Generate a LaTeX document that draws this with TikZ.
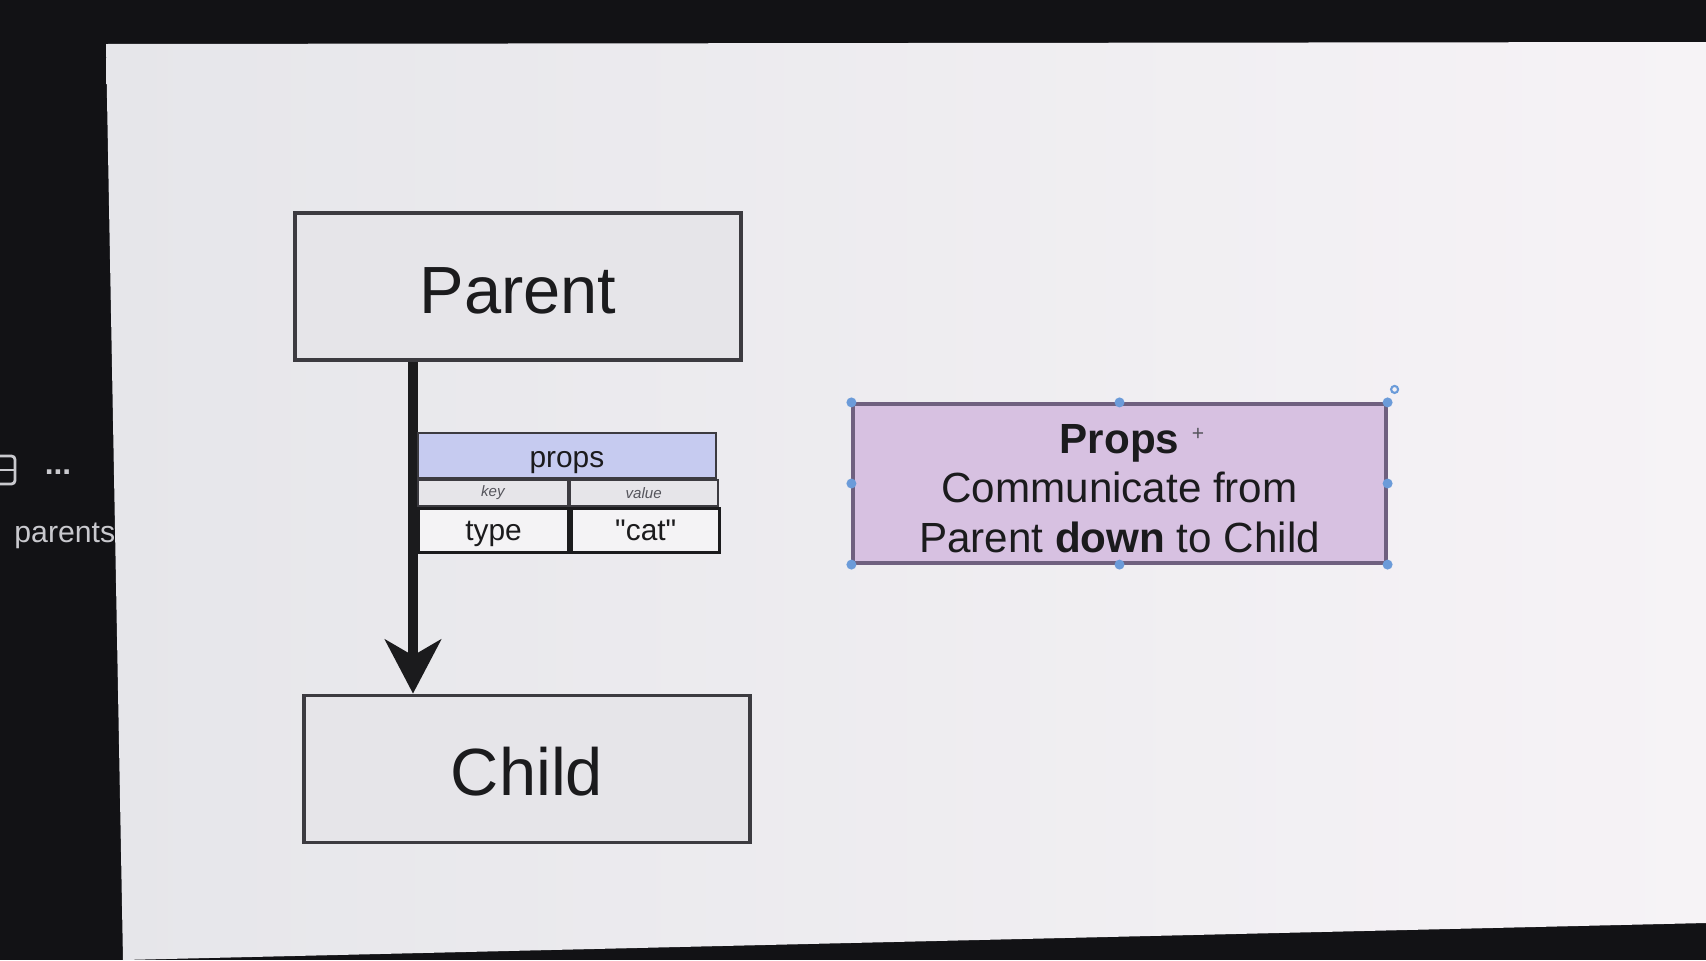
\documentclass[tikz,border=0pt]{standalone}
\usepackage{fontspec}
\setmainfont{Liberation Sans}[Ligatures=TeXOff]
\usepackage{xcolor}
\usepackage{tikz}
\usetikzlibrary{positioning,arrows.meta,calc}
\definecolor{PPdark}{HTML}{121215}
\definecolor{PPscreenL}{HTML}{E6E6EA}
\definecolor{PPscreenR}{HTML}{F6F3F6}
\definecolor{PPbox}{HTML}{E6E5E9}
\definecolor{PPline}{HTML}{3C3B40}
\definecolor{PPink}{HTML}{1B1B1D}
\definecolor{PPhead}{HTML}{C6CBF0}
\definecolor{PPpurple}{HTML}{D7C1E1}
\definecolor{PPpurpleLine}{HTML}{6F607F}
\definecolor{PPhandle}{HTML}{6B9BD9}
\definecolor{PPmuted}{HTML}{55555C}
\definecolor{PPpaneltext}{HTML}{C9C9CE}
\tikzset{
  compbox/.style={draw=PPline, line width=0.9pt, fill=PPbox, minimum width=4.46cm, minimum height=1.47cm, inner sep=0pt, text height=15.5pt, font=\fontsize{19}{22}\selectfont, text=PPink},
  flowarr/.style={-{Stealth[length=5.4mm, width=5.6mm, inset=1.6mm]}, line width=2.6pt, draw=PPink},
  headcell/.style={draw=PPline, line width=0.5pt, fill=PPhead, minimum width=2.98cm, minimum height=0.45cm, inner sep=0pt, text height=8.5pt, text depth=1.7pt, font=\fontsize{8.5}{10}\selectfont, text=PPink},
  keycell/.style={draw=PPline, line width=0.5pt, fill=PPbox, minimum height=0.26cm, inner sep=0pt, font=\fontsize{4.3}{5}\selectfont\itshape, text=PPmuted},
  valcell/.style={draw=PPink, line width=0.9pt, fill=white!55!PPbox, minimum height=0.44cm, inner sep=0pt, text height=7.8pt, text depth=1.7pt, font=\fontsize{8.5}{10}\selectfont, text=PPink},
  notebox/.style={draw=PPpurpleLine, line width=0.9pt, fill=PPpurple, minimum width=5.33cm, minimum height=1.59cm, inner sep=0pt, align=center, font=\fontsize{12}{14.2}\selectfont, text=PPink},
  handle/.style={circle, fill=PPhandle, inner sep=0pt, minimum size=0.1cm}
}

\begin{document}
\begin{tikzpicture}[node distance=0.18cm]
\useasboundingbox (0,0) rectangle (17.06,9.60);
\fill[PPdark] (0,0) rectangle (17.06,9.60);
\shade[left color=PPscreenL, right color=PPscreenR] (1.06,9.16) -- (17.06,9.18) -- (17.06,0.37) -- (1.23,0) -- cycle;
\draw[PPpaneltext, line width=0.8pt, rounded corners=1pt] (-0.1,4.76) rectangle (0.15,5.04);
\draw[PPpaneltext, line width=0.8pt] (-0.1,4.90) -- (0.15,4.90);
\node[text=PPpaneltext, font=\fontsize{9}{10}\selectfont\bfseries] (dots) at (0.58,4.88) {...};
\node[text=PPpaneltext, font=\fontsize{8.6}{10}\selectfont, anchor=base west] (panel) at (0.02,4.18) {parents};

\node[compbox] (parent) at (5.18,6.735) {Parent};
\node[compbox, below=3.32cm of parent, xshift=0.09cm] (child) {Child};
\coordinate (ax) at ([xshift=-1.05cm]parent.south);
\draw[flowarr] (ax) -- (ax |- child.north);

\node[headcell, anchor=north west] (props) at (4.17,5.28) {props};
\node[keycell, minimum width=1.50cm, anchor=north west] (key) at (props.south west) {key};
\node[keycell, minimum width=1.48cm, anchor=north west] (value) at (key.north east) {value};
\node[valcell, minimum width=1.50cm, anchor=north west] (type) at (key.south west) {type};
\node[valcell, minimum width=1.48cm, anchor=north west] (cat) at (type.north east) {"cat"};

\node[notebox] (note) at (11.195,4.765) {\rule{0pt}{11.2pt}\textbf{Props}\\Communicate from\\Parent \textbf{down} to Child};
\node[text=PPmuted, font=\fontsize{6}{7}\selectfont] (cursor) at (11.98,5.26) {+};
\foreach \a in {north west,north,north east,west,east,south west,south,south east}
  \node[handle] at (note.\a) {};
\draw[PPhandle, line width=0.6pt] ([shift={(0.07,0.13)}]note.north east) circle (0.035);
\end{tikzpicture}
\end{document}
